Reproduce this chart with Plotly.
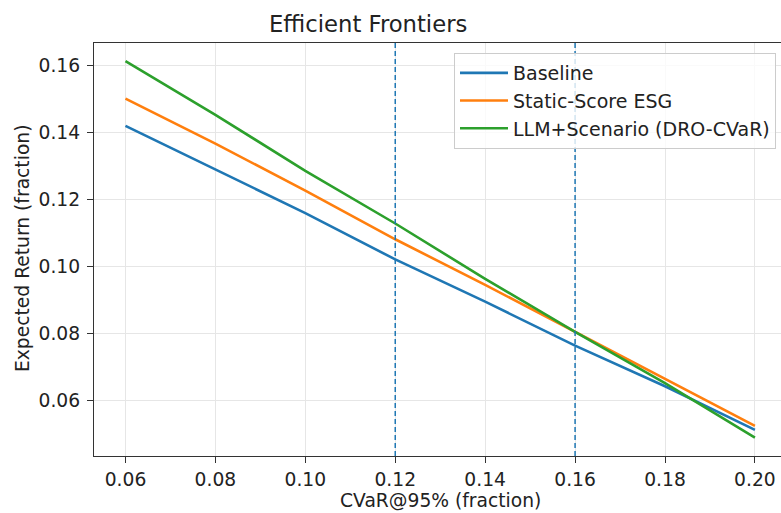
import plotly.graph_objects as go

cvar = [0.06, 0.08, 0.10, 0.12, 0.14, 0.16, 0.18, 0.20]
baseline = [0.1419, 0.1288, 0.1159, 0.1021, 0.0895, 0.0764, 0.0643, 0.0513]
static_esg = [0.1500, 0.1366, 0.1226, 0.1081, 0.0945, 0.0805, 0.0665, 0.0525]
llm_dro = [0.1612, 0.1452, 0.1285, 0.1128, 0.0963, 0.0805, 0.0652, 0.0490]
series_names = ["Baseline", "Static-Score ESG", "LLM+Scenario (DRO-CVaR)"]
risk_limits = [0.12, 0.16]
x_ticks = [0.06, 0.08, 0.10, 0.12, 0.14, 0.16, 0.18, 0.20]
y_ticks = [0.06, 0.08, 0.10, 0.12, 0.14, 0.16]

colors = ["#1f77b4", "#ff7f0e", "#2ca02c"]
FONT = "DejaVu Sans"
FS = 18.7

W, H = 781, 513
L, T = 94, 43
B = H - 456
PW, PH = W - L, H - T - B

def px_x(px):
    return (px - L) / PW

def px_y(py):
    return (H - B - py) / PH

fig = go.Figure()
for name, ys, c in zip(series_names, [baseline, static_esg, llm_dro], colors):
    fig.add_trace(go.Scatter(x=cvar, y=ys, mode="lines", name=name,
                             line=dict(color=c, width=2.6)))

for v in risk_limits:
    fig.add_shape(type="line", xref="x", yref="paper", x0=v, x1=v, y0=0, y1=1,
                  line=dict(color="#1f77b4", width=1.5, dash="5px,3px"), layer="above")

axis_common = dict(
    showgrid=True, gridcolor="#e6e6e6", gridwidth=1.3,
    showline=True, linecolor="#333333", linewidth=1.3,
    ticks="outside", ticklen=6, tickwidth=1.3, tickcolor="#333333",
    tickfont=dict(family=FONT, size=FS, color="#222222"),
    zeroline=False,
)

fig.update_layout(
    width=W, height=H,
    margin=dict(l=L, r=0, t=T, b=B),
    paper_bgcolor="white", plot_bgcolor="white",
    font=dict(family=FONT, size=FS, color="#222222"),
    showlegend=True,
    legend=dict(x=px_x(454), y=px_y(53), xanchor="left", yanchor="top",
                itemwidth=48,
                bgcolor="rgba(255,255,255,0.8)", bordercolor="#cccccc", borderwidth=1,
                font=dict(family=FONT, size=19, color="#222222")),
    xaxis=dict(range=[0.053, 0.2058], tickvals=x_ticks,
               ticktext=[f"{t:.2f}" for t in x_ticks], mirror=True, **axis_common),
    yaxis=dict(range=[0.0435, 0.1666], tickvals=y_ticks, ticklabelstandoff=3,
               ticktext=[f"{t:.2f}" for t in y_ticks], mirror=False, **axis_common),
    annotations=[
        dict(text="Efficient Frontiers", xref="paper", yref="paper",
             x=px_x(368), y=px_y(24), xanchor="center", yanchor="middle",
             showarrow=False, font=dict(family=FONT, size=22.7, color="#222222")),
        dict(text="CVaR@95% (fraction)", xref="paper", yref="paper",
             x=px_x(440), y=px_y(500), xanchor="center", yanchor="middle",
             showarrow=False, font=dict(family=FONT, size=FS, color="#222222")),
        dict(text="Expected Return (fraction)", xref="paper", yref="paper",
             x=px_x(22), y=px_y(249), xanchor="center", yanchor="middle",
             textangle=-90, showarrow=False, font=dict(family=FONT, size=FS, color="#222222")),
    ],
)

fig.write_html(
    "out.html",
    config={"displayModeBar": False},
    post_script="document.body.style.margin='0';document.body.style.overflow='hidden';",
)
